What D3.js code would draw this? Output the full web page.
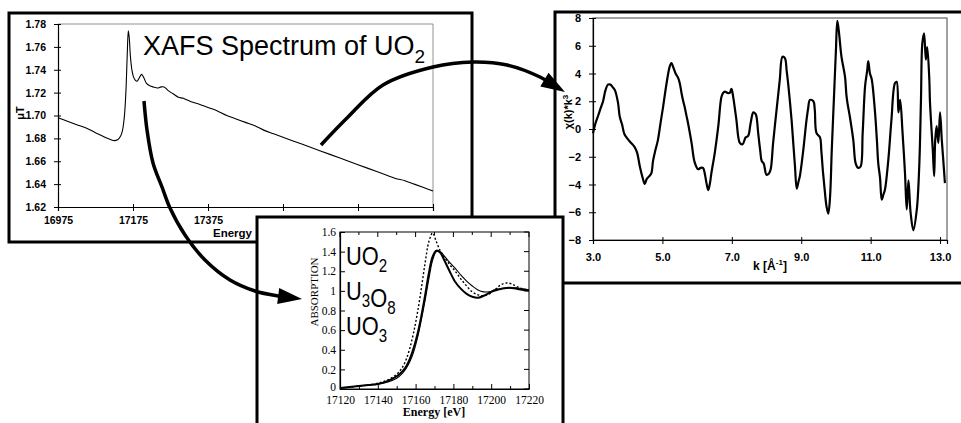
<!DOCTYPE html>
<html>
<head>
<meta charset="utf-8">
<script src="https://cdn.jsdelivr.net/npm/d3@7"></script>
<style>
body { margin: 0; background: #fff; }
svg { display: block; }
</style>
</head>
<body>
<div id="fig"></div>
<script>
// panel 1: raw XAFS spectrum of UO2
var xafsEnergy = [16975, 17000, 17025, 17050, 17075, 17100, 17115, 17125, 17135, 17142, 17147, 17151, 17154, 17157, 17160, 17162.5, 17165, 17168, 17172, 17176, 17181, 17186, 17192, 17198, 17204, 17211, 17220, 17229, 17240, 17250, 17258, 17268, 17282, 17296, 17309, 17330, 17350, 17375, 17400, 17425, 17450, 17475, 17500, 17525, 17550, 17575, 17600, 17625, 17650, 17675, 17700, 17725, 17750, 17775, 17800, 17825, 17850, 17875, 17900, 17925, 17950, 17975]
var xafsMu = [1.698, 1.695, 1.692, 1.689, 1.685, 1.681, 1.679, 1.678, 1.679, 1.682, 1.687, 1.696, 1.708, 1.728, 1.757, 1.774, 1.768, 1.752, 1.740, 1.734, 1.731, 1.730, 1.733, 1.736, 1.733, 1.728, 1.726, 1.725, 1.724, 1.725, 1.725, 1.722, 1.719, 1.716, 1.715, 1.712, 1.710, 1.707, 1.704, 1.700, 1.697, 1.694, 1.691, 1.687, 1.684, 1.681, 1.678, 1.675, 1.672, 1.669, 1.666, 1.663, 1.660, 1.657, 1.654, 1.651, 1.648, 1.645, 1.643, 1.640, 1.637, 1.634]
var xafsYTicks = [1.62, 1.64, 1.66, 1.68, 1.70, 1.72, 1.74, 1.76, 1.78]
var xafsXTicks = [16975, 17175, 17375, 17575, 17775, 17975]

// panel 2: XANES of the three oxides
var xanesEnergy = [17120, 17125, 17130, 17135, 17140, 17145, 17150, 17153, 17155, 17157, 17159, 17161, 17163, 17165, 17167, 17169, 17171, 17173, 17175, 17178, 17181, 17184, 17187, 17190, 17193, 17196, 17199, 17202, 17205, 17208, 17211, 17214, 17217, 17220]
var xanesUO2 = [0.01, 0.02, 0.03, 0.04, 0.05, 0.08, 0.13, 0.18, 0.23, 0.31, 0.42, 0.56, 0.74, 0.95, 1.18, 1.35, 1.41, 1.39, 1.32, 1.20, 1.09, 1.02, 0.97, 0.94, 0.93, 0.95, 0.98, 1.01, 1.02, 1.03, 1.03, 1.02, 1.01, 1.00]
var xanesU3O8 = [0.01, 0.02, 0.03, 0.04, 0.05, 0.07, 0.11, 0.16, 0.21, 0.28, 0.38, 0.52, 0.70, 0.90, 1.12, 1.31, 1.40, 1.40, 1.36, 1.29, 1.23, 1.16, 1.10, 1.05, 1.01, 0.99, 0.99, 1.00, 1.02, 1.03, 1.03, 1.03, 1.02, 1.01]
var xanesUO3 = [0.01, 0.02, 0.03, 0.04, 0.06, 0.09, 0.15, 0.22, 0.30, 0.42, 0.58, 0.78, 1.02, 1.28, 1.50, 1.59, 1.50, 1.41, 1.35, 1.27, 1.20, 1.12, 1.05, 0.99, 0.96, 0.95, 0.97, 1.01, 1.06, 1.08, 1.07, 1.04, 1.02, 1.01]
var xanesYTicks = [0, 0.2, 0.4, 0.6, 0.8, 1, 1.2, 1.4, 1.6]
var xanesXTicks = [17120, 17140, 17160, 17180, 17200, 17220]

// panel 3: EXAFS chi(k)*k^3
var exafsK = [3.00, 3.07, 3.14, 3.22, 3.29, 3.36, 3.43, 3.50, 3.57, 3.63, 3.72, 3.77, 3.84, 3.91, 4.06, 4.20, 4.27, 4.35, 4.44, 4.49, 4.55, 4.62, 4.68, 4.73, 4.80, 4.87, 4.95, 5.02, 5.12, 5.21, 5.26, 5.32, 5.38, 5.45, 5.50, 5.55, 5.60, 5.64, 5.69, 5.74, 5.84, 5.93, 6.03, 6.10, 6.17, 6.22, 6.27, 6.32, 6.37, 6.41, 6.51, 6.61, 6.70, 6.75, 6.80, 6.87, 6.94, 6.99, 7.04, 7.13, 7.23, 7.31, 7.40, 7.47, 7.54, 7.62, 7.68, 7.71, 7.76, 7.82, 7.86, 7.92, 8.00, 8.07, 8.12, 8.19, 8.29, 8.38, 8.46, 8.53, 8.58, 8.63, 8.72, 8.77, 8.82, 8.87, 8.92, 8.96, 9.06, 9.15, 9.20, 9.25, 9.35, 9.39, 9.44, 9.54, 9.58, 9.63, 9.68, 9.73, 9.78, 9.83, 9.88, 9.94, 10.00, 10.04, 10.09, 10.16, 10.26, 10.30, 10.33, 10.40, 10.50, 10.57, 10.64, 10.71, 10.77, 10.84, 10.90, 10.93, 10.98, 11.03, 11.12, 11.18, 11.22, 11.27, 11.32, 11.37, 11.41, 11.51, 11.60, 11.70, 11.75, 11.80, 11.85, 11.92, 11.99, 12.04, 12.09, 12.15, 12.23, 12.33, 12.40, 12.45, 12.49, 12.54, 12.59, 12.63, 12.69, 12.71, 12.79, 12.83, 12.86, 12.90, 12.95, 13.00, 13.05, 13.10, 13.14]
var exafsChi = [-0.3, 0.4, 0.9, 1.5, 2.0, 2.8, 3.2, 3.2, 3.0, 2.8, 1.9, 0.9, 0.3, -0.4, -0.9, -1.3, -1.7, -2.7, -3.6, -3.95, -3.6, -3.4, -3.2, -2.3, -1.5, -0.8, 0.5, 1.6, 3.3, 4.5, 4.75, 4.4, 4.0, 3.7, 3.3, 2.6, 2.0, 1.6, 1.0, 0.4, -1.0, -2.4, -2.9, -2.8, -2.8, -3.2, -3.9, -4.4, -3.9, -3.2, -1.7, 0.2, 2.3, 2.6, 2.7, 2.6, 2.6, 2.9, 2.3, 0.7, -1.0, -1.1, -0.6, -0.5, 0.4, 1.2, 1.1, 0.9, -0.3, -1.6, -2.3, -2.5, -3.3, -3.2, -2.9, -1.0, 1.4, 3.5, 5.2, 5.1, 4.2, 3.1, 0.7, -1.0, -2.7, -4.3, -3.8, -3.4, -1.5, 0.6, 1.5, 2.1, 2.0, 1.4, -0.3, -0.6, -1.6, -3.2, -4.5, -5.6, -6.1, -4.9, -1.5, 2.1, 5.7, 7.8, 6.9, 5.2, 3.8, 2.5, 1.9, 0.9, -0.8, -2.5, -2.8, -2.7, -0.3, 3.1, 4.2, 4.9, 4.0, 3.6, 1.4, -0.8, -2.5, -3.5, -5.1, -4.7, -4.4, -2.2, 0.7, 3.3, 3.4, 1.2, 2.1, -0.3, -3.2, -5.8, -3.7, -6.0, -7.3, -5.8, -2.7, 2.1, 6.2, 6.9, 5.0, 5.9, 3.6, 1.9, -1.5, -3.4, -0.8, 0.2, -1.0, 1.2, -0.8, -2.5, -3.9]
var exafsYTicks = [-8, -6, -4, -2, 0, 2, 4, 6, 8]
var exafsXTicks = [3, 5, 7, 9, 11, 13]

var sans = "'Liberation Sans', Arial, sans-serif"
var serif = "'Liberation Serif', 'Times New Roman', serif"

var svg = d3.select('#fig').append('svg')
  .attr('width', 961)
  .attr('height', 423)
svg.append('rect').attr('width', 961).attr('height', 423).attr('fill', '#fff')

function styleAxis(g, font, size, weight) {
  g.select('.domain').attr('stroke', '#000').attr('stroke-width', 1.2)
  g.selectAll('.tick line').attr('stroke', '#000')
  g.selectAll('.tick text')
    .attr('fill', '#000')
    .style('font-family', font)
    .style('font-size', size + 'px')
    .style('font-weight', weight)
}

// ---------- panel 1 ----------
var p1 = svg.append('g')
p1.append('rect')
  .attr('x', 9).attr('y', 13).attr('width', 463).attr('height', 229)
  .attr('fill', '#fff').attr('stroke', '#000').attr('stroke-width', 3)

var x1 = d3.scaleLinear().domain([16975, 17975]).range([58, 433])
var y1 = d3.scaleLinear().domain([1.62, 1.78]).range([207, 24])

p1.append('path')
  .attr('d', 'M' + x1(16975) + ',' + y1(1.78) + 'H' + x1(17975) + 'V' + y1(1.62))
  .attr('fill', 'none').attr('stroke', '#777').attr('stroke-width', 0.8)

var ax1 = p1.append('g')
  .attr('transform', 'translate(0,' + y1(1.62) + ')')
  .call(d3.axisBottom(x1).tickValues(xafsXTicks).tickSize(4).tickPadding(6).tickFormat(d3.format('d')))
styleAxis(ax1, sans, 10.5, 'bold')
ax1.selectAll('.tick line').attr('y1', -3)

var ay1 = p1.append('g')
  .attr('transform', 'translate(' + x1(16975) + ',0)')
  .call(d3.axisLeft(y1).tickValues(xafsYTicks).tickSize(4).tickPadding(8).tickFormat(d3.format('.2f')))
styleAxis(ay1, sans, 10.5, 'bold')
ay1.selectAll('.tick line').attr('x1', 3)

p1.append('path')
  .datum(d3.zip(xafsEnergy, xafsMu))
  .attr('fill', 'none').attr('stroke', '#000').attr('stroke-width', 1.1)
  .attr('d', d3.line().x(d => x1(d[0])).y(d => y1(d[1])).curve(d3.curveCatmullRom))

p1.append('text')
  .attr('x', 252).attr('y', 237).attr('text-anchor', 'end')
  .style('font-family', sans).style('font-size', '11.5px').style('font-weight', 'bold')
  .text('Energy')

p1.append('text')
  .attr('transform', 'translate(24,113) rotate(-90)')
  .attr('text-anchor', 'middle')
  .style('font-family', sans).style('font-size', '11px').style('font-weight', 'bold')
  .text('μT')

var title = p1.append('text')
  .attr('x', 143).attr('y', 55)
  .style('font-family', sans).style('font-size', '27px')
title.append('tspan').text('XAFS Spectrum of UO')
title.append('tspan').attr('dy', 8).style('font-size', '19px').text('2')

// ---------- panel 3 (right) ----------
var p3 = svg.append('g')
p3.append('rect')
  .attr('x', 555).attr('y', 12).attr('width', 430).attr('height', 271)
  .attr('fill', '#fff').attr('stroke', '#000').attr('stroke-width', 3)

var x3 = d3.scaleLinear().domain([3, 13.2]).range([593, 947])
var y3 = d3.scaleLinear().domain([-8, 8]).range([240, 18])

p3.append('rect')
  .attr('x', x3(3)).attr('y', y3(8))
  .attr('width', x3(13.2) - x3(3)).attr('height', y3(-8) - y3(8))
  .attr('fill', 'none').attr('stroke', '#444').attr('stroke-width', 1)

var ax3 = p3.append('g')
  .attr('transform', 'translate(0,' + y3(-8) + ')')
  .call(d3.axisBottom(x3).tickValues(exafsXTicks).tickSize(4).tickPadding(9).tickFormat(d3.format('.1f')))
styleAxis(ax3, sans, 11, 'bold')
ax3.selectAll('.tick line').attr('y1', -3)

var ay3 = p3.append('g')
  .attr('transform', 'translate(' + x3(3) + ',0)')
  .call(d3.axisLeft(y3).tickValues(exafsYTicks).tickSize(4).tickPadding(8))
styleAxis(ay3, sans, 11, 'bold')
ay3.selectAll('.tick line').attr('x1', 3)

p3.append('path')
  .datum(d3.zip(exafsK, exafsChi))
  .attr('fill', 'none').attr('stroke', '#000').attr('stroke-width', 2.2)
  .attr('stroke-linejoin', 'round')
  .attr('d', d3.line().x(d => x3(d[0])).y(d => y3(d[1])).curve(d3.curveCatmullRom))

var kl = p3.append('text')
  .attr('x', 770).attr('y', 270).attr('text-anchor', 'middle')
  .style('font-family', sans).style('font-size', '12px').style('font-weight', 'bold')
kl.append('tspan').text('k [Å')
kl.append('tspan').attr('dy', -5).style('font-size', '8px').text('-1')
kl.append('tspan').attr('dy', 5).text(']')

var cl = p3.append('text')
  .attr('transform', 'translate(572,112) rotate(-90)')
  .attr('text-anchor', 'middle')
  .style('font-family', sans).style('font-size', '11px').style('font-weight', 'bold')
cl.append('tspan').text('χ(k)*k')
cl.append('tspan').attr('dy', -4).style('font-size', '8px').text('3')

// ---------- arrow from panel 1 to panel 3 ----------
function arrow(pts, tip) {
  var last = pts[pts.length - 1]
  var dx = tip[0] - last[0], dy = tip[1] - last[1]
  var len = Math.sqrt(dx * dx + dy * dy)
  var ux = dx / len, uy = dy / len
  var hl = 24, hw = 8
  var bx = tip[0] - ux * hl, by = tip[1] - uy * hl
  var g = svg.append('g')
  g.append('path')
    .attr('d', d3.line().curve(d3.curveCatmullRom)(pts.concat([[bx + ux * 4, by + uy * 4]])))
    .attr('fill', 'none').attr('stroke', '#000').attr('stroke-width', 3.5)
  g.append('path')
    .attr('d', 'M' + tip + 'L' + [bx - uy * hw, by + ux * hw] + 'L' + [bx + uy * hw, by - ux * hw] + 'Z')
    .attr('fill', '#000')
}

arrow([[321, 145], [347, 118], [383, 85], [433, 67], [473, 62], [507, 65], [540, 77]], [565, 92])

// ---------- panel 2 (bottom) ----------
var p2 = svg.append('g')
p2.append('rect')
  .attr('x', 257).attr('y', 217).attr('width', 306).attr('height', 220)
  .attr('fill', '#fff').attr('stroke', '#000').attr('stroke-width', 3)

var x2 = d3.scaleLinear().domain([17120, 17220]).range([340, 529])
var y2 = d3.scaleLinear().domain([0, 1.6]).range([389, 232])

p2.append('rect')
  .attr('x', x2(17120)).attr('y', y2(1.6))
  .attr('width', x2(17220) - x2(17120)).attr('height', y2(0) - y2(1.6))
  .attr('fill', 'none').attr('stroke', '#000').attr('stroke-width', 1)

var minorX = d3.range(17120, 17221, 10)
var minorY = d3.range(0, 1.61, 0.2)
p2.append('g').selectAll('line').data(minorX).join('line')
  .attr('x1', d => x2(d)).attr('x2', d => x2(d))
  .attr('y1', y2(1.6)).attr('y2', d => y2(1.6) + (d % 20 === 0 ? 5 : 3))
  .attr('stroke', '#000')
p2.append('g').selectAll('line').data(minorY).join('line')
  .attr('y1', d => y2(d)).attr('y2', d => y2(d))
  .attr('x1', x2(17220)).attr('x2', x2(17220) - 5)
  .attr('stroke', '#000')

var ax2 = p2.append('g')
  .attr('transform', 'translate(0,' + y2(0) + ')')
  .call(d3.axisBottom(x2).tickValues(minorX).tickSizeInner(-4).tickSizeOuter(0).tickPadding(7)
    .tickFormat(d => d % 20 === 0 ? d : ''))
styleAxis(ax2, serif, 11.5, 'normal')
ax2.selectAll('.tick line').attr('y2', d => d % 20 === 0 ? -5 : -3)

var ay2 = p2.append('g')
  .attr('transform', 'translate(' + x2(17120) + ',0)')
  .call(d3.axisLeft(y2).tickValues(xanesYTicks).tickSizeInner(-5).tickSizeOuter(0).tickPadding(4)
    .tickFormat(d => d === 0 || d === 1 ? d : d3.format('.1f')(d)))
styleAxis(ay2, serif, 11.5, 'normal')
ay2.selectAll('.tick text').filter(d => d === 0).attr('dy', '0.1em')

var line2 = d3.line().x(d => x2(d[0])).y(d => y2(d[1])).curve(d3.curveCatmullRom)
p2.append('path').datum(d3.zip(xanesEnergy, xanesU3O8))
  .attr('fill', 'none').attr('stroke', '#000').attr('stroke-width', 1.1).attr('d', line2)
p2.append('path').datum(d3.zip(xanesEnergy, xanesUO3))
  .attr('fill', 'none').attr('stroke', '#000').attr('stroke-width', 1.4)
  .attr('stroke-dasharray', '2,2').attr('d', line2)
p2.append('path').datum(d3.zip(xanesEnergy, xanesUO2))
  .attr('fill', 'none').attr('stroke', '#000').attr('stroke-width', 2).attr('d', line2)

p2.append('text')
  .attr('x', 434).attr('y', 416).attr('text-anchor', 'middle')
  .style('font-family', serif).style('font-size', '12px').style('font-weight', 'bold')
  .text('Energy [eV]')

p2.append('text')
  .attr('transform', 'translate(318,292) rotate(-90)')
  .attr('text-anchor', 'middle')
  .style('font-family', serif).style('font-size', '11px')
  .text('ABSORPTION')

// compound labels: [text, subscript] pairs
var compounds = [
  [['UO', '2']],
  [['U', '3'], ['O', '8']],
  [['UO', '3']]
]
compounds.forEach(function (parts, i) {
  var t = p2.append('text')
    .attr('transform', 'translate(346,' + (265 + i * 35) + ') scale(0.84,1)')
    .style('font-family', sans).style('font-size', '26px')
  parts.forEach(function (p) {
    t.append('tspan').attr('dy', 0).text(p[0])
    t.append('tspan').attr('dy', 7).style('font-size', '18px').text(p[1])
    t.append('tspan').attr('dy', -7).text('')
  })
})

// ---------- arrow from panel 1 to panel 2 ----------
arrow([[144, 101], [147, 130], [153, 163], [162, 187], [170, 208], [185, 235], [205, 260], [230, 280], [255, 291], [278, 296]], [302, 299])
</script>
</body>
</html>
